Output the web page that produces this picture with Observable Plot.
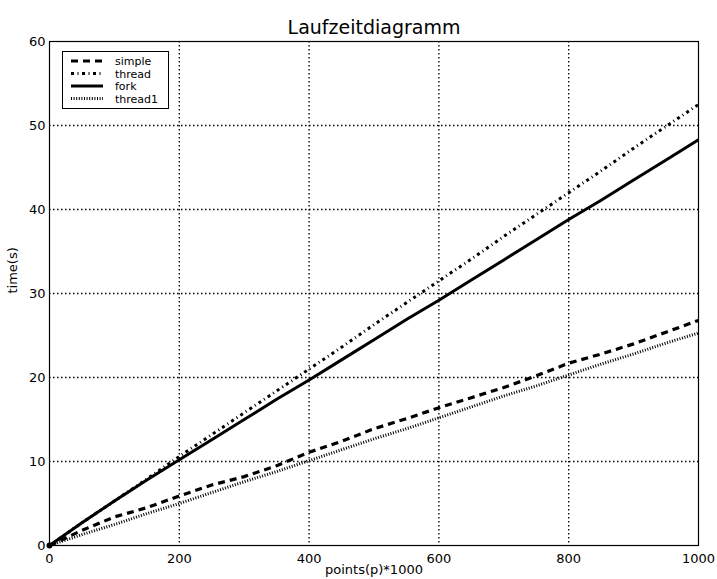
<!DOCTYPE html>
<html><head><meta charset="utf-8">
<script src="https://cdn.jsdelivr.net/npm/d3@7"></script>
<script src="https://cdn.jsdelivr.net/npm/@observablehq/plot@0.6"></script>
<style>
body{margin:0;background:#fff;font-family:"DejaVu Sans",sans-serif;}
#wrap{position:relative;width:717px;height:579px;}
#legend{position:absolute;left:0;top:0;}
</style></head>
<body><div id="wrap"></div>
<script>
const title = "Laufzeitdiagramm";
const xLabel = "points(p)*1000";
const yLabel = "time(s)";
const xTicks = [0, 200, 400, 600, 800, 1000];
const yTicks = [0, 10, 20, 30, 40, 50, 60];
const points = [0,50,100,150,200,250,300,350,400,450,500,550,600,650,700,750,800,850,900,950,1000];
const simple  = [0,1.8,3.4,4.5,5.9,7.2,8.2,9.5,11.1,12.4,13.9,15.1,16.4,17.6,18.8,20.2,21.7,22.8,24.0,25.4,26.8];
const thread  = [0,2.7,5.3,7.9,10.6,13.2,15.8,18.4,21.0,23.6,26.3,28.9,31.5,34.1,36.8,39.4,42.0,44.6,47.3,49.9,52.5];
const fork    = [0,2.7,5.3,7.8,10.2,12.6,15.0,17.4,19.7,22.1,24.5,26.9,29.2,31.6,34.0,36.4,38.8,41.1,43.5,45.9,48.3];
const thread1 = [0,1.3,2.5,3.8,5.0,6.3,7.6,8.8,10.1,11.4,12.7,13.9,15.2,16.5,17.8,19.0,20.3,21.6,22.8,24.1,25.3];
const seriesNames = ["simple","thread","fork","thread1"];
const seriesVals = [simple, thread, fork, thread1];
const styles = {
  simple:  {strokeWidth:3.2, strokeDasharray:"7,5"},
  thread:  {strokeWidth:3, strokeDasharray:"3,3.5,1,3.5"},
  fork:    {strokeWidth:3, strokeDasharray:null},
  thread1: {strokeWidth:3, strokeDasharray:"1,1.6"}
};
const rows = [];
seriesNames.forEach((s,i)=>points.forEach((p,j)=>rows.push({series:s,x:p,y:seriesVals[i][j]})));

const font = "DejaVu Sans";
const chart = Plot.plot({
  width:717, height:579,
  marginLeft:49, marginRight:19, marginTop:41, marginBottom:34,
  style:{fontFamily:font, fontSize:"13px", background:"#fff", color:"#000"},
  x:{domain:[0,1000], ticks:xTicks, label:null},
  y:{domain:[0,60], ticks:yTicks, label:null},
  marks:[
    Plot.ruleX(xTicks.slice(1,-1), {stroke:"#000", strokeWidth:1.3, strokeDasharray:"1.5,2.5"}),
    Plot.ruleY(yTicks.slice(1,-1), {stroke:"#000", strokeWidth:1.3, strokeDasharray:"1.5,2.5"}),
    Plot.axisX({ticks:xTicks, tickSize:0, tickPadding:8, fontSize:13, label:null, tickFormat:d=>String(d)}),
    Plot.axisY({ticks:yTicks, tickSize:0, tickPadding:4, fontSize:13, label:null, tickFormat:d=>String(d)}),
    ...seriesNames.map(s => Plot.line(rows.filter(r=>r.series===s), {x:"x", y:"y", stroke:"#000", strokeWidth:styles[s].strokeWidth, strokeDasharray:styles[s].strokeDasharray, strokeLinecap:"butt"})),
    Plot.dot([{x:0,y:0}], {x:"x", y:"y", r:3, fill:"#000"}),
    Plot.frame({stroke:"#000", strokeWidth:1.2}),
    Plot.text([title], {frameAnchor:"top", dy:-21, fontSize:19, fill:"#000"}),
    Plot.text([xLabel], {frameAnchor:"bottom", dy:28, fontSize:13, fill:"#000"}),
    Plot.text([yLabel], {frameAnchor:"left", dx:-37, rotate:-90, fontSize:13, fill:"#000"})
  ]
});
const wrap = document.getElementById("wrap");
wrap.appendChild(chart);

// legend overlay
const lg = d3.select(wrap).append("svg").attr("id","legend").attr("width",717).attr("height",579);
const bx = 62, by = 51, bw = 106, bh = 57;
lg.append("rect").attr("x",bx+0.5).attr("y",by+0.5).attr("width",bw).attr("height",bh).attr("fill","#fff").attr("stroke","#000").attr("stroke-width",1);
seriesNames.forEach((s,i)=>{
  const yy = by + 10 + i*12.5;
  lg.append("line").attr("x1",bx+9).attr("x2",bx+41).attr("y1",yy).attr("y2",yy)
    .attr("stroke","#000").attr("stroke-width",styles[s].strokeWidth)
    .attr("stroke-dasharray",styles[s].strokeDasharray);
  lg.append("text").attr("x",bx+53).attr("y",yy+4).attr("font-family",font).attr("font-size",11).text(s);
});
</script></body></html>
